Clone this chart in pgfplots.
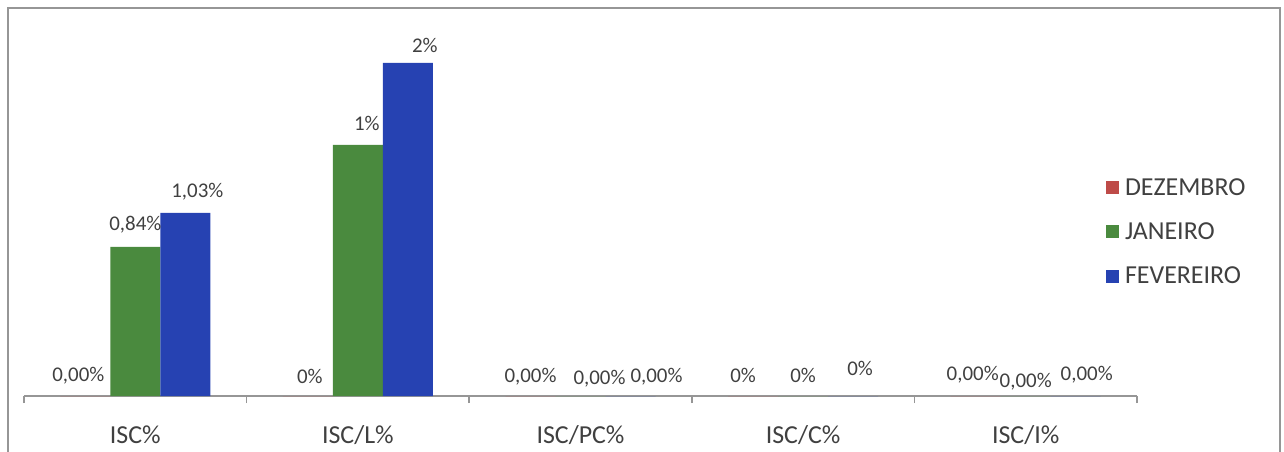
\documentclass[border=0pt]{standalone}
\usepackage{pgfplots}
\usepackage{pgfplotstable}
\pgfplotsset{compat=1.18}
\usepackage{fontspec}
\setmainfont{Carlito}
\definecolor{cDez}{RGB}{190,75,72}
\definecolor{cJan}{RGB}{74,138,62}
\definecolor{cFev}{RGB}{38,66,178}
\definecolor{txt}{RGB}{64,64,64}
\definecolor{frame}{RGB}{150,150,150}

\pgfplotstableread{
x y lab dx dy
0 0 0,00 -7 20
1 0 0 2 20
2 0 0,00 0 19
3 0 0 -10 21
4 0 0,00 -3 21
}\dez
\pgfplotstableread{
x y lab dx dy
0 0.84 0,84 0 22
1 1.415 1 9 22
2 0 0,00 19 17
3 0 0 0 21
4 0 0,00 0 14
}\jan
\pgfplotstableread{
x y lab dx dy
0 1.032 1,03 12 21
1 1.877 2 17 18
2 0 0,00 26 19
3 0 0 7 28
4 0 0,00 11 21
}\fev

\begin{document}
\begin{tikzpicture}
\useasboundingbox (0,0) rectangle (1284bp,452bp);
\draw[frame, line width=2bp] (8bp,-2bp) -- (8bp,444bp) -- (1280bp,444bp) -- (1280bp,-2bp);
\begin{axis}[
  at={(24bp,56bp)}, anchor=south west,
  scale only axis, width=1113bp, height=388bp,
  xmin=-0.5, xmax=4.5, ymin=0, ymax=2.187,
  clip=false,
  ybar=0pt, bar width=50bp,
  axis x line*=bottom, axis y line=none,
  x axis line style={frame, line width=1.5bp},
  xtick={0,1,2,3,4},
  xticklabels={ISC\%, ISC/L\%, ISC/PC\%, ISC/C\%, ISC/I\%},
  major tick length=0pt,
  minor xtick={-0.5,0.5,1.5,2.5,3.5,4.5},
  minor tick length=7bp,
  tick align=outside,
  minor tick style={frame, line width=1.5bp},
  xticklabel style={font=\fontsize{26}{30}\selectfont, text=txt, anchor=base, yshift=-47bp},
  point meta=explicit symbolic,
  nodes near coords={\pgfplotspointmeta\%},
  visualization depends on={\thisrow{dx}\as\dx},
  visualization depends on={\thisrow{dy}\as\dy},
  every node near coord/.append style={font=\fontsize{21}{24}\selectfont, text=txt, anchor=center, xshift=\dx bp, yshift=\dy bp, inner sep=0pt},
  legend style={at={(0.972,0.4227)}, anchor=west, draw=none, fill=none, inner sep=0pt,
    font=\fontsize{26}{30}\selectfont, text=txt, row sep=22bp,
    /tikz/every odd column/.append style={column sep=4bp}},
  legend cell align=left,
  legend image code/.code={\fill[#1] (0bp,-6.5bp) rectangle (13bp,6.5bp);},
]
\addplot[fill=cDez, draw=none] table[x=x, y=y, meta=lab] {\dez};
\addplot[fill=cJan, draw=none] table[x=x, y=y, meta=lab] {\jan};
\addplot[fill=cFev, draw=none] table[x=x, y=y, meta=lab] {\fev};
\legend{DEZEMBRO, JANEIRO, FEVEREIRO}
\end{axis}
\end{tikzpicture}
\end{document}
